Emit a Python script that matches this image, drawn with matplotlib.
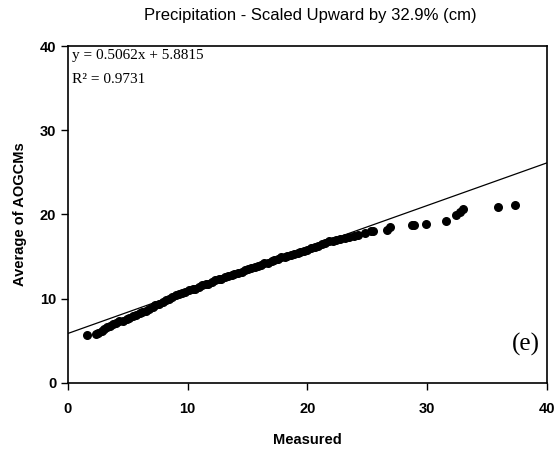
import matplotlib.pyplot as plt
import numpy as np

# measured vs. average of AOGCMs (cm)
measured = [1.6, 2.3, 2.5, 2.8, 3.0, 3.3, 3.5, 3.8, 4.0, 4.3, 4.6, 4.9, 5.1, 5.4,
            5.7, 6.0, 6.2, 6.5, 6.8, 7.1, 7.3, 7.6, 7.9, 8.2, 8.4, 8.7, 9.0, 9.3,
            9.5, 9.8, 10.1, 10.4, 10.6, 10.9, 11.2, 11.5, 11.7, 12.0, 12.3, 12.6,
            12.8, 13.1, 13.4, 13.7, 13.9, 14.2, 14.5, 14.8, 15.0, 15.3, 15.6, 15.9,
            16.1, 16.4, 16.7, 17.0, 17.2, 17.5, 17.8, 18.1, 18.3, 18.6, 18.9, 19.2,
            19.4, 19.7, 20.0, 20.3, 20.6, 20.9, 21.2, 21.5, 21.8, 22.1, 22.4, 22.7,
            23.1, 23.5, 23.9, 24.2, 24.8, 25.3, 25.5, 26.6, 26.9, 28.7, 28.9, 29.9,
            31.6, 32.4, 32.7, 33.0, 35.9, 37.3]
aogcm_avg = [5.7, 5.8, 5.9, 6.2, 6.4, 6.6, 6.8, 7.0, 7.1, 7.3, 7.4, 7.6, 7.7, 7.9,
             8.1, 8.3, 8.4, 8.6, 8.8, 9.0, 9.2, 9.4, 9.6, 9.8, 10.0, 10.2, 10.4, 10.6,
             10.7, 10.8, 11.0, 11.1, 11.2, 11.4, 11.6, 11.7, 11.8, 12.0, 12.2, 12.3,
             12.4, 12.6, 12.7, 12.8, 12.9, 13.1, 13.2, 13.4, 13.5, 13.6, 13.8, 13.9,
             14.0, 14.2, 14.3, 14.5, 14.6, 14.7, 14.9, 15.0, 15.1, 15.2, 15.3, 15.4,
             15.5, 15.7, 15.8, 16.0, 16.1, 16.3, 16.5, 16.6, 16.8, 16.9, 17.0, 17.1,
             17.2, 17.3, 17.4, 17.6, 17.8, 18.0, 18.1, 18.2, 18.5, 18.7, 18.8, 18.9,
             19.2, 19.9, 20.3, 20.6, 20.9, 21.1]

# trend line from the printed equation
slope = 0.5062
intercept = 5.8815
r2 = 0.9731

fig = plt.figure(figsize=(5.59, 4.51), dpi=100)
ax = fig.add_axes([0.1216, 0.1508, 0.8569, 0.7472])

ax.scatter(measured, aogcm_avg, s=30, color='black', zorder=3)
xl = np.array([0, 40])
ax.plot(xl, slope * xl + intercept, color='black', lw=0.9, zorder=2)

ax.set_xlim(0, 40)
ax.set_ylim(0, 40)
ax.set_xticks([0, 10, 20, 30, 40])
ax.set_yticks([0, 10, 20, 30, 40])
ax.tick_params(direction='out', length=5, width=1, labelsize=10.5, colors='black')
ax.tick_params(axis='x', pad=9)
for lab in ax.get_xticklabels() + ax.get_yticklabels():
    lab.set_fontfamily('Liberation Sans')
    lab.set_fontweight('bold')
for s in ax.spines.values():
    s.set_linewidth(1.2)

ax.set_xlabel('Measured', fontsize=10.5, fontweight='bold', family='Liberation Sans', labelpad=12)
ax.set_ylabel('Average of AOGCMs', fontsize=10.5, fontweight='bold', family='Liberation Sans', labelpad=9)
fig.text(0.555, 0.965, 'Precipitation - Scaled Upward by 32.9% (cm)', ha='center', va='center',
         fontsize=12, family='Liberation Sans')

ax.text(0.3, 39.6, 'y = %.4fx + %.4f' % (slope, intercept), fontsize=11,
        family='Liberation Serif', va='top')
ax.text(0.3, 36.8, 'R\u00b2 = %.4f' % r2, fontsize=11, family='Liberation Serif', va='top')
ax.text(39.4, 4.6, '(e)', fontsize=18, family='Liberation Serif', ha='right', va='center')

fig.savefig('out.png', dpi=100)
